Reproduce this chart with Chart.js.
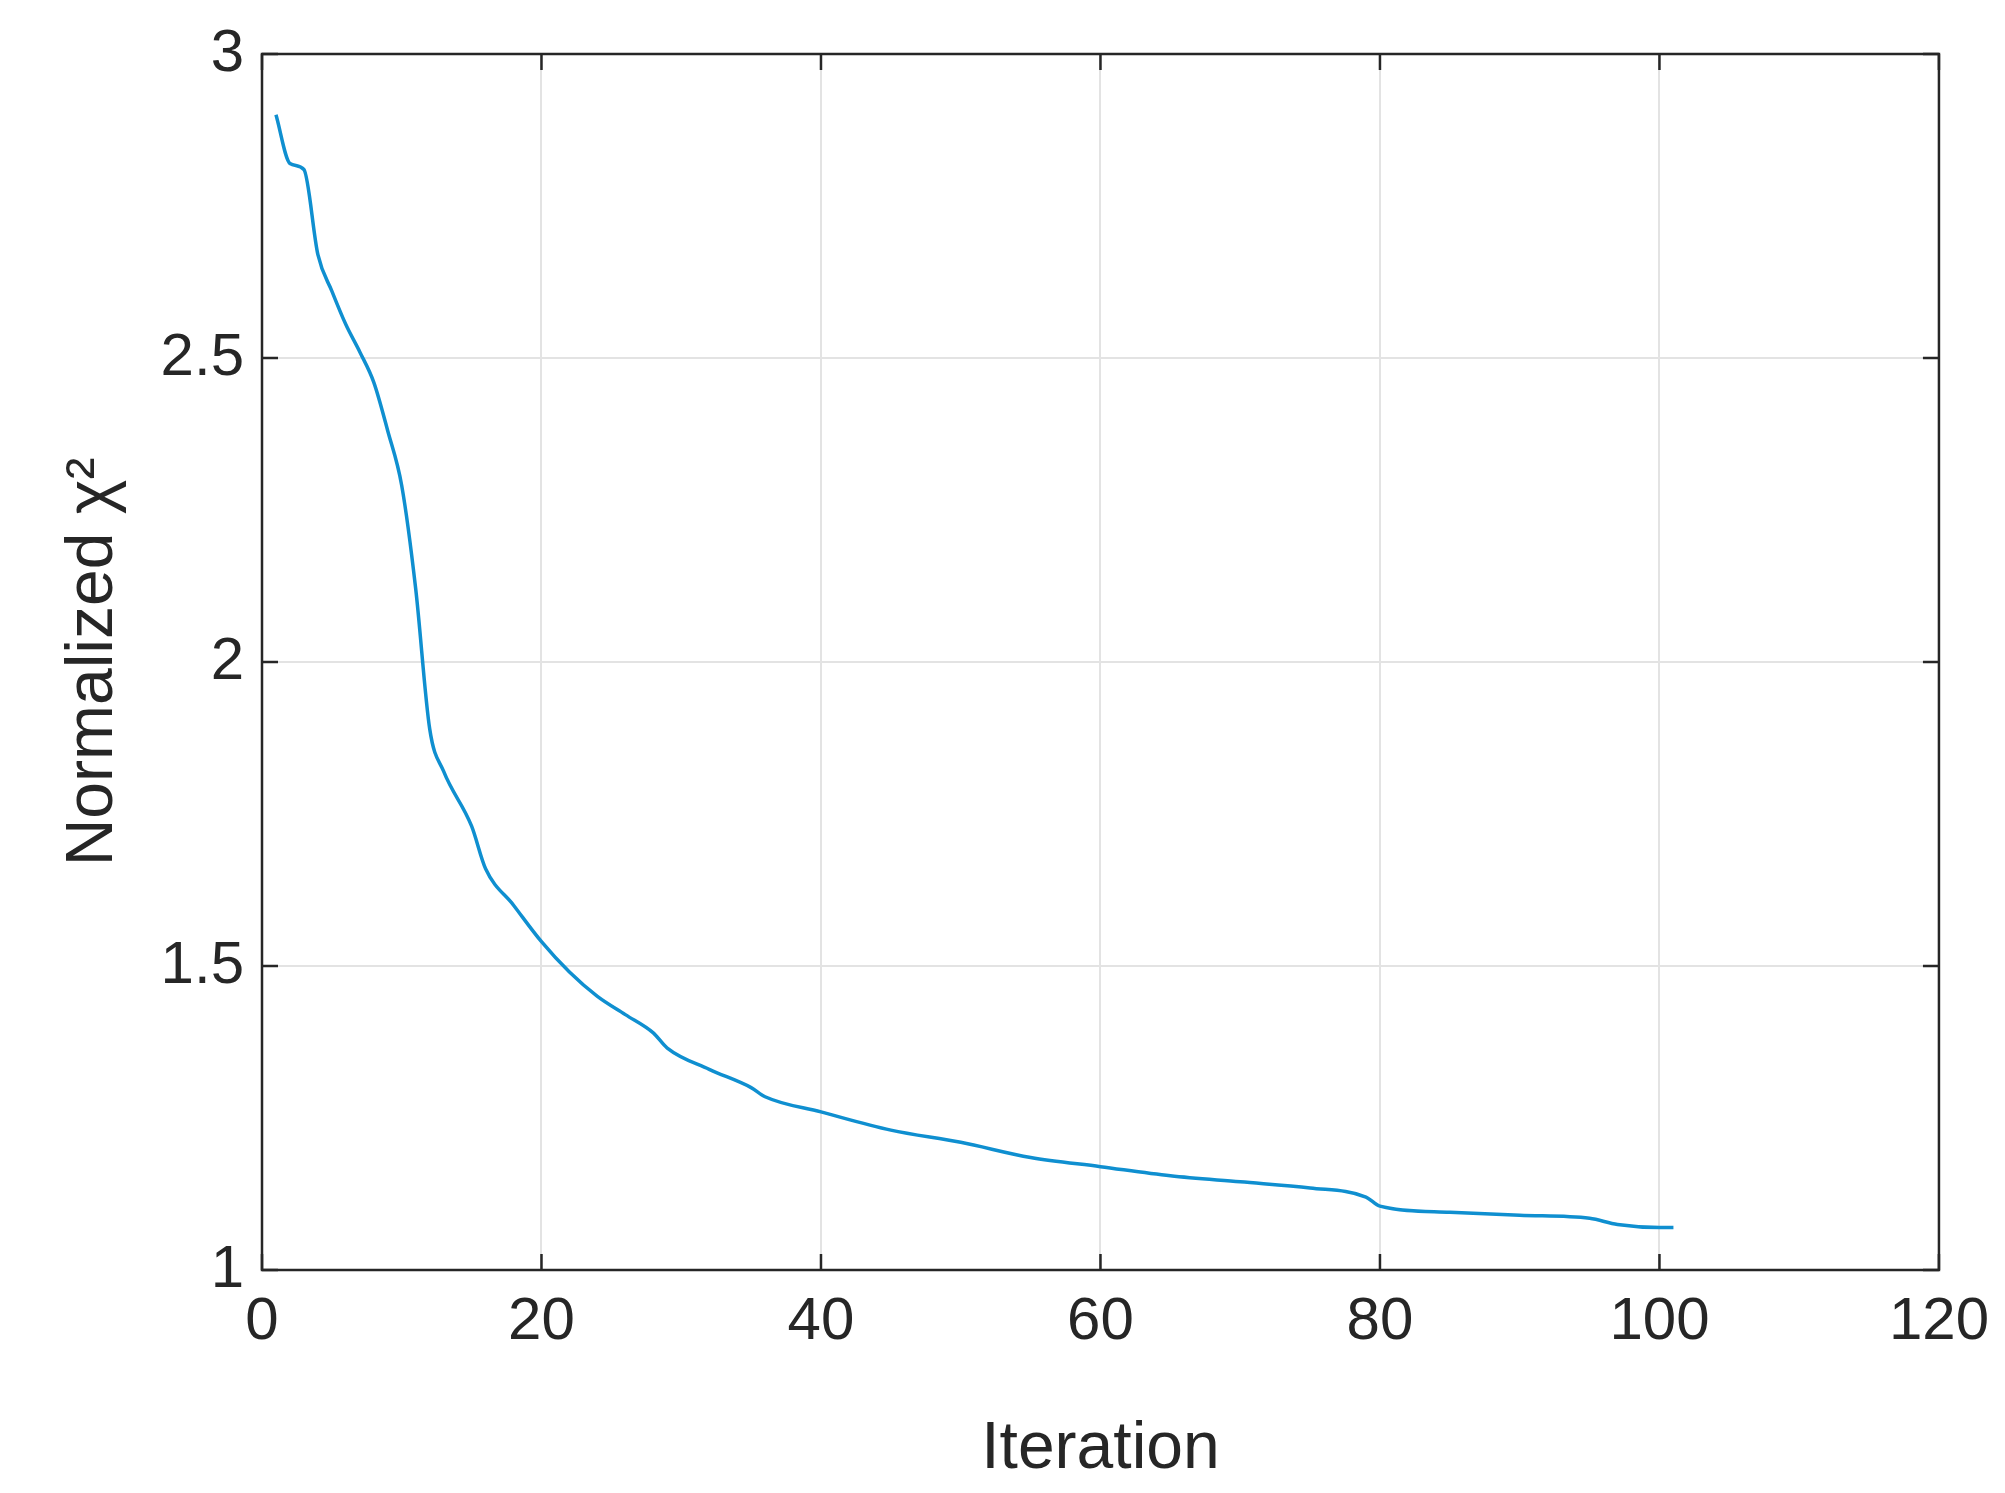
<!DOCTYPE html>
<html><head><meta charset="utf-8">
<script src="https://cdn.jsdelivr.net/npm/chart.js@4"></script>
<style>html,body{margin:0;padding:0;background:#fff}#w{width:2005px;height:1493px}</style>
</head><body><div id="w"><canvas id="c"></canvas></div>
<script>
const iterations = [1,2,3,4,5,6,7,8,9,10,11,12,13,15,16,18,20,22,24,26,28,29,32,35,36,40,45,50,55,60,65,70,75,79,80,85,90,95,97,100,101];
const chi2 = [2.90,2.82,2.81,2.67,2.61,2.555,2.51,2.46,2.38,2.29,2.12,1.89,1.82,1.73,1.66,1.60,1.54,1.49,1.45,1.42,1.39,1.365,1.33,1.30,1.285,1.26,1.23,1.21,1.185,1.17,1.155,1.145,1.135,1.12,1.105,1.095,1.09,1.085,1.075,1.07,1.07];
const xTicks = [0,20,40,60,80,100,120];
const yTicks = [1,1.5,2,2.5,3];
const FONT = "'Liberation Sans', Arial, sans-serif";
const boxPlugin = {
  id:'box',
  afterDraw(ch){
    const {ctx, chartArea:a, scales:{x,y}} = ch;
    ctx.save();
    ctx.strokeStyle='#262626'; ctx.lineWidth=2.5;
    ctx.strokeRect(a.left,a.top,a.right-a.left,a.bottom-a.top);
    const L=16;
    ctx.beginPath();
    xTicks.forEach(v=>{const p=x.getPixelForValue(v);
      ctx.moveTo(p,a.bottom);ctx.lineTo(p,a.bottom-L);ctx.moveTo(p,a.top);ctx.lineTo(p,a.top+L);});
    yTicks.forEach(v=>{const p=y.getPixelForValue(v);
      ctx.moveTo(a.left,p);ctx.lineTo(a.left+L,p);ctx.moveTo(a.right,p);ctx.lineTo(a.right-L,p);});
    ctx.stroke();
    ctx.restore();
  }
};
new Chart(document.getElementById('c'),{
  type:'line',
  data:{datasets:[{data:iterations.map((v,i)=>({x:v,y:chi2[i]})),borderColor:'#0f8fd0',borderWidth:3.5,pointRadius:0,tension:0.3,cubicInterpolationMode:'monotone',fill:false}]},
  options:{
    responsive:true,maintainAspectRatio:false,animation:false,
    layout:{padding:{top:45,right:64,left:50,bottom:0}},
    plugins:{legend:{display:false},tooltip:{enabled:false}},
    scales:{
      x:{type:'linear',min:0,max:120,
        afterBuildTicks(s){s.ticks=xTicks.map(v=>({value:v}));},
        afterFit(s){s.height=223;},
        grid:{color:'#e3e3e3',lineWidth:2,drawTicks:false},border:{display:false},
        ticks:{color:'#262626',font:{family:FONT,size:60},padding:16,maxRotation:0},
        title:{display:true,text:'Iteration',color:'#262626',font:{family:FONT,size:66},padding:{top:4}}},
      y:{type:'linear',min:1,max:3,
        afterBuildTicks(s){s.ticks=yTicks.map(v=>({value:v}));},
        afterFit(s){s.width=212;},
        grid:{color:'#e3e3e3',lineWidth:2,drawTicks:false},border:{display:false},
        ticks:{color:'#262626',font:{family:FONT,size:60},padding:18,callback:v=>String(v)},
        title:{display:true,text:'Normalized χ²',color:'#262626',font:{family:FONT,size:66},padding:{bottom:10}}}
    }
  },
  plugins:[boxPlugin]
});
</script></body></html>
